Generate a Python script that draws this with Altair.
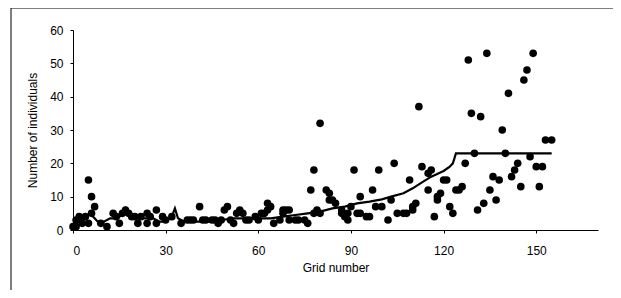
import altair as alt
import pandas as pd

# Scatter: grid number vs number of individuals
grid = [0, 1, 1, 2, 3, 4, 5, 6, 6, 7, 5, 9, 11, 13, 14, 15, 16, 17, 18, 19,
        20, 21, 22, 24, 24, 25, 27, 27, 29, 30, 32, 35, 37, 38, 39, 41, 42, 43, 45, 46,
        47, 48, 49, 50, 51, 52, 53, 54, 55, 56, 57, 59, 60, 61, 62, 63, 63, 64, 65, 67,
        68, 68, 69, 70, 70, 72, 73, 75, 76, 77, 78, 78, 79, 80, 80, 82, 83, 83, 84, 85,
        87, 87, 88, 89, 89, 90, 91, 92, 93, 93, 95, 96, 97, 98, 99, 100, 102, 103, 104, 105,
        107, 108, 109, 110, 110, 111, 112, 113, 115, 115, 116, 117, 118, 118, 119, 120, 121, 122, 123, 124,
        125, 126, 127, 128, 129, 130, 131, 132, 133, 134, 135, 136, 137, 138, 139, 140, 141, 142, 143, 144,
        145, 146, 147, 148, 149, 150, 151, 152, 153, 155]
count = [1, 1, 3, 4, 2, 4, 15, 10, 5, 7, 2, 2, 1, 5, 4, 2, 5, 6, 5, 4,
         4, 2, 4, 2, 5, 4, 6, 2, 4, 3, 4, 2, 3, 3, 3, 7, 3, 3, 3, 3,
         2, 3, 6, 7, 3, 2, 5, 6, 5, 3, 3, 4, 3, 5, 5, 8, 6, 7, 2, 3,
         6, 5, 6, 6, 3, 3, 3, 3, 2, 12, 18, 5, 6, 32, 5, 12, 11, 9, 9, 8,
         5, 6, 4, 3, 5, 7, 18, 5, 10, 5, 4, 4, 12, 7, 18, 7, 3, 9, 20, 5,
         5, 5, 15, 6, 7, 8, 37, 19, 17, 12, 18, 4, 9, 10, 11, 15, 15, 7, 5, 12,
         12, 13, 20, 51, 35, 23, 6, 34, 8, 53, 12, 16, 9, 15, 30, 23, 41, 16, 18, 20,
         13, 45, 48, 22, 53, 19, 13, 19, 27, 27]

# Running line
line_grid = [0, 2, 4, 5, 6, 7, 8, 10, 12, 14, 16, 17, 18, 20, 22, 24, 26, 28, 30, 32,
             33, 34, 36, 40, 44, 48, 52, 56, 60, 64, 68, 72, 76, 80, 84, 88, 92, 96, 100, 103,
             107, 110, 113, 116, 120, 122, 123, 124, 155]
line_val = [1.5, 2.5, 3.5, 4.5, 4.5, 3.5, 2.5, 2.5, 3.5, 3.5, 4.5, 6.5, 4.5, 3.5, 3.5, 3.5, 3.5, 2.5, 2.5, 4,
            6.5, 3.5, 2.5, 2.5, 2.5, 3, 3.5, 3.5, 3.5, 3.5, 4, 4.5, 5, 5.5, 6.5, 7, 8, 8.5, 9.2, 10,
            11, 12.5, 14.3, 16, 17.7, 19, 20, 23, 23]

x_ticks = [0, 30, 60, 90, 120, 150]
y_ticks = [0, 10, 20, 30, 40, 50, 60]

pts = pd.DataFrame({"grid": grid, "count": count})
ln = pd.DataFrame({"grid": line_grid, "count": line_val})

W, H = 525, 200
FONT = "Liberation Sans"

xaxis = alt.Axis(values=x_ticks, title="Grid number", tickSize=3,
                 labelPadding=12, titlePadding=6, labelOverlap=False)
yaxis = alt.Axis(values=y_ticks, title="Number of individuals", tickSize=3,
                 labelPadding=7, titlePadding=10, labelOverlap=False)
xscale = alt.Scale(domain=[0, 170], nice=False)
yscale = alt.Scale(domain=[0, 60], nice=False)

points = alt.Chart(pts).mark_circle(size=58, color="black", opacity=1).encode(
    x=alt.X("grid:Q", scale=xscale, axis=xaxis),
    y=alt.Y("count:Q", scale=yscale, axis=yaxis))
line = alt.Chart(ln).mark_line(color="black", strokeWidth=2.2).encode(
    x=alt.X("grid:Q", scale=xscale, axis=xaxis),
    y=alt.Y("count:Q", scale=yscale, axis=yaxis))

frame = alt.Chart(pd.DataFrame({"a": [0]})).mark_rect(
    fill=None, stroke="black", strokeWidth=1
).encode(
    x=alt.value(-62), x2=alt.value(W + 16),
    y=alt.value(-22), y2=alt.value(H + 61)
)

chart = alt.layer(frame, line, points).properties(
    width=W, height=H,
    autosize=alt.AutoSizeParams(type="none"),
    padding={"left": 65, "top": 22, "right": 15, "bottom": 60},
).configure_view(stroke=None).configure_axis(
    grid=False, domainColor="black", tickColor="black", labelColor="black",
    titleColor="black", labelFont=FONT, titleFont=FONT, labelFontSize=12,
    titleFontSize=12, titleFontWeight="normal", domainWidth=1
)

chart.save("out.html", embed_options={"renderer": "svg", "actions": False})
